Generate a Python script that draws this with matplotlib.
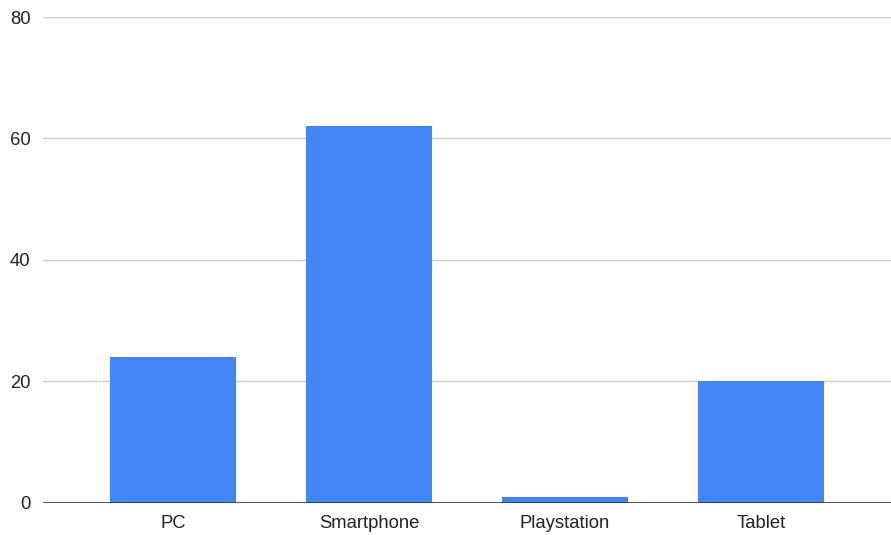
import matplotlib.pyplot as plt

# data
categories = ["PC", "Smartphone", "Playstation", "Tablet"]
values = [24, 62, 1, 20]
y_ticks = [0, 20, 40, 60, 80]

plt.rcParams['font.family'] = ['Liberation Sans', 'DejaVu Sans']

fig = plt.figure(figsize=(8.91, 5.35), dpi=100)
ax = fig.add_axes([0.0483, 0.0604, 0.9517, 0.9078])

x = range(len(categories))
ax.bar(x, values, width=0.645, color="#4285F4", zorder=3)

ax.set_xlim(-0.665, len(categories) - 1 + 0.665)
ax.set_ylim(0, 80)
ax.set_yticks(y_ticks)
ax.set_xticks(list(x))
ax.set_xticklabels(categories)

# gridlines, baseline
ax.grid(axis="y", color="#cccccc", linewidth=1, zorder=0)
ax.axhline(0, color="#333333", linewidth=1.2, zorder=4)
for s in ax.spines.values():
    s.set_visible(False)

ax.tick_params(axis="both", length=0, labelsize=13.3, colors="#222222")
ax.tick_params(axis="y", pad=9)
ax.tick_params(axis="x", pad=9)

fig.savefig("out.png", dpi=100)
